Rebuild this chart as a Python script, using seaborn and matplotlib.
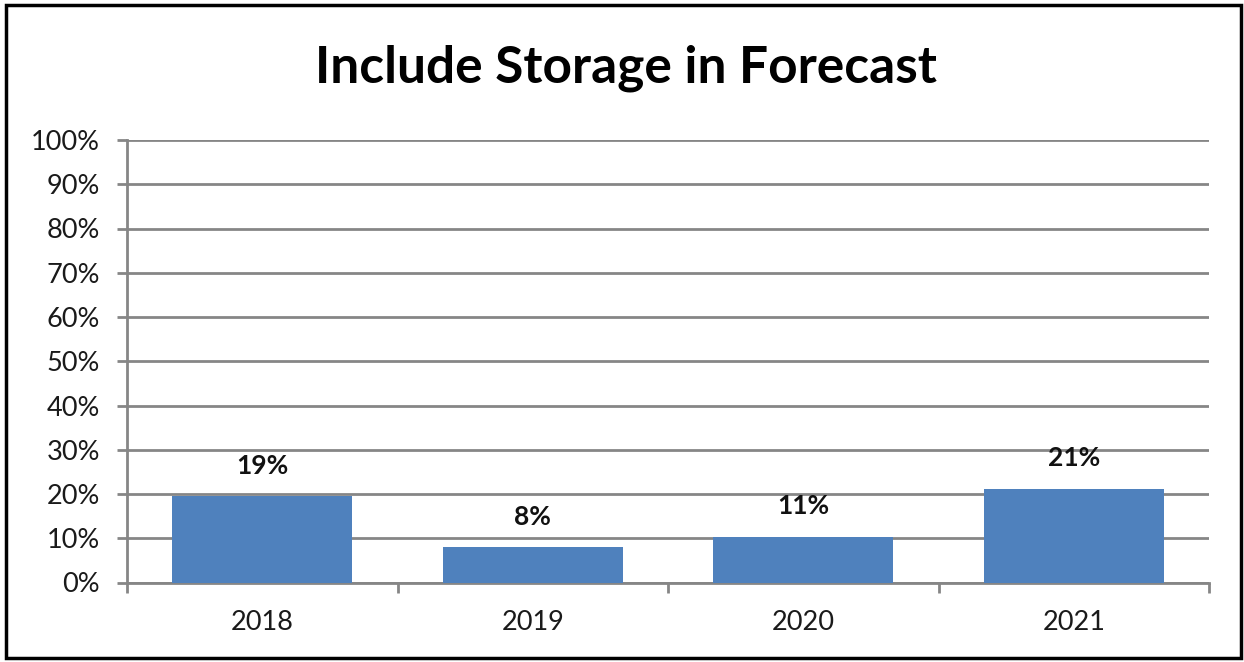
import matplotlib
matplotlib.use("Agg")
import matplotlib.pyplot as plt
import seaborn as sns
import pandas as pd
from matplotlib.patches import Rectangle
from matplotlib.ticker import FixedLocator, PercentFormatter

years = ["2018", "2019", "2020", "2021"]
values = [0.195, 0.08, 0.103, 0.212]
value_labels = ["19%", "8%", "11%", "21%"]
title = "Include Storage in Forecast"

sns.set_theme(style="white")
plt.rcParams["font.family"] = ["Lato", "DejaVu Sans"]

W, H = 1244, 662
fig = plt.figure(figsize=(W / 100, H / 100), dpi=100)
ax = fig.add_axes([127 / W, 1 - 582.5 / H, (1209 - 127) / W, (582.5 - 140) / H])

df = pd.DataFrame({"year": years, "value": values})
sns.barplot(data=df, x="year", y="value", color="#4F81BD", saturation=1,
            width=0.667, ax=ax, zorder=3, linewidth=0)

grid_c = "#868686"
lw = 2.0
ax.set_ylim(0, 1)
ax.set_xlim(-0.5, 3.5)
ax.set_yticks([i / 10 for i in range(11)])
ax.yaxis.set_major_formatter(PercentFormatter(1.0, decimals=0))
ax.yaxis.grid(True, color=grid_c, lw=lw, zorder=0)
ax.set_axisbelow(True)
for s in ["top", "right"]:
    ax.spines[s].set_visible(False)
for s in ["left", "bottom"]:
    ax.spines[s].set_color(grid_c)
    ax.spines[s].set_linewidth(lw)
ax.tick_params(axis="y", which="major", length=7.5, width=lw, color=grid_c,
               direction="out", pad=12, labelsize=19.5, labelcolor="#1a1a1a", left=True)
ax.tick_params(axis="x", which="major", length=0, pad=20, labelsize=19.5,
               labelcolor="#1a1a1a")
ax.xaxis.set_minor_locator(FixedLocator([-0.5, 0.5, 1.5, 2.5, 3.5]))
ax.tick_params(axis="x", which="minor", length=7.5, width=lw, color=grid_c,
               direction="out", bottom=True)
ax.set_xlabel("")
ax.set_ylabel("")

for p, lab in zip(ax.patches, value_labels):
    ax.annotate(lab, (p.get_x() + p.get_width() / 2, p.get_height()),
                xytext=(0, 22), textcoords="offset points", ha="center",
                va="center", fontsize=19, fontweight="bold", color="#111111")

fig.text(626 / W, 1 - 68 / H, title, ha="center", va="center",
         fontsize=37, fontweight="bold", color="#000000")

fig.patches.append(Rectangle((6 / W, 4 / H), (1241 - 6) / W, (657 - 4) / H,
                             transform=fig.transFigure, fill=False,
                             edgecolor="#000000", lw=2.5))

fig.savefig("out.png", dpi=100, facecolor="white")
